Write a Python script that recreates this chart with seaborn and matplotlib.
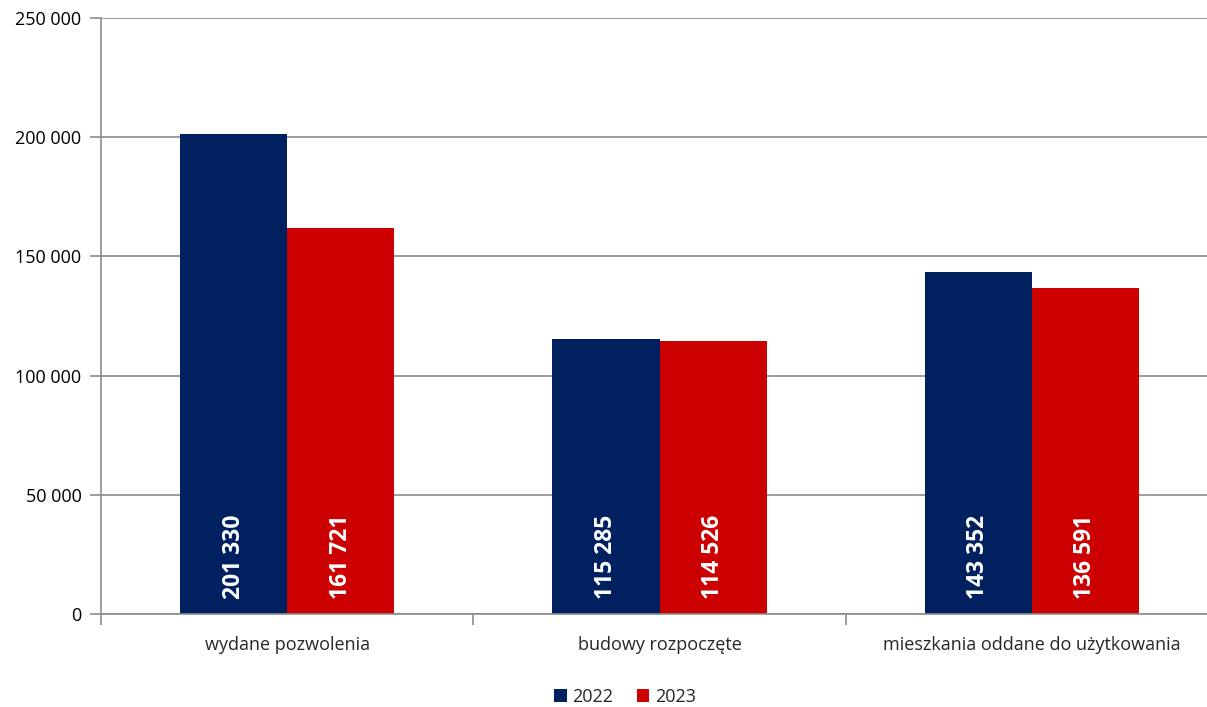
import matplotlib
matplotlib.use("Agg")
import matplotlib.pyplot as plt
import matplotlib.ticker as mticker
import seaborn as sns
import pandas as pd

categories = ["wydane pozwolenia", "budowy rozpoczęte", "mieszkania oddane do użytkowania"]
years = ["2022", "2023"]
values_2022 = [201330, 115285, 143352]
values_2023 = [161721, 114526, 136591]

df = pd.DataFrame({
    "kategoria": categories * 2,
    "rok": [years[0]] * 3 + [years[1]] * 3,
    "wartosc": values_2022 + values_2023,
})

sns.set_style("white")
plt.rcParams["font.family"] = ["Open Sans", "DejaVu Sans"]

fig = plt.figure(figsize=(12.07, 7.07), dpi=100)
ax = fig.add_axes([0.0837, 0.1315, 0.9254, 0.843])

palette = {"2022": "#002060", "2023": "#CC0000"}
sns.barplot(data=df, x="kategoria", y="wartosc", hue="rok", palette=palette,
            width=0.575, saturation=1, ax=ax, legend=True, linewidth=0)

ax.set_xlim(-0.5, 2.5)
ax.set_ylim(0, 250000)
ax.yaxis.set_major_locator(mticker.MultipleLocator(50000))
ax.yaxis.set_major_formatter(mticker.FuncFormatter(lambda v, p: f"{int(v):,}".replace(",", " ")))
ax.grid(axis="y", color="#8c8c8c", linewidth=1.2)
ax.set_axisbelow(True)

for s in ["top", "right"]:
    ax.spines[s].set_visible(False)
for s in ["left", "bottom"]:
    ax.spines[s].set_color("#8c8c8c")
    ax.spines[s].set_linewidth(1.2)

ax.tick_params(axis="y", left=True, length=8, color="#8c8c8c", width=1.2,
               labelsize=13, labelcolor="black", pad=6)
ax.set_xticks([0, 1, 2])
ax.set_xticklabels(categories)
ax.tick_params(axis="x", which="major", bottom=False, labelsize=13, pad=12)
ax.set_xticks([-0.5, 0.5, 1.5], minor=True)
ax.tick_params(axis="x", which="minor", bottom=True, length=8, color="#8c8c8c", width=1.2)
ax.set_xlabel("")
ax.set_ylabel("")

for cont in ax.containers:
    for bar, v in zip(cont, cont.datavalues):
        ax.text(bar.get_x() + bar.get_width() / 2, 6500, f"{int(v):,}".replace(",", " "),
                rotation=90, ha="center", va="bottom", color="white",
                fontsize=16.5, fontweight="bold")

handles, labels = ax.get_legend_handles_labels()
ax.get_legend().remove()
fig.legend(handles, labels, loc="center", bbox_to_anchor=(625 / 1207, 10 / 707), ncol=2,
           frameon=False, fontsize=13, handlelength=0.7, handleheight=0.7,
           handletextpad=0.3, columnspacing=1.3, borderpad=0)

fig.savefig("out.png", dpi=100)
